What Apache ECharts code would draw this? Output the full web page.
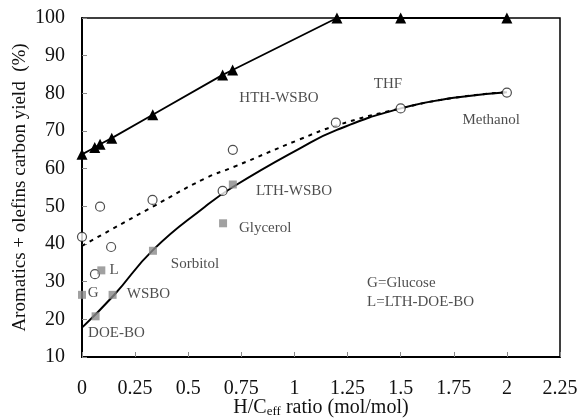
<!DOCTYPE html>
<html>
<head>
<meta charset="utf-8">
<script src="https://cdn.jsdelivr.net/npm/echarts@6/dist/echarts.min.js"></script>
<style>html,body{margin:0;padding:0;background:#fff;}#c{width:581px;height:418px;}</style>
</head>
<body>
<div id="c"></div>
<script>
// HTH-WSBO (filled triangles)
const hthX = [0, 0.06, 0.085, 0.14, 0.333, 0.662, 0.709, 1.2, 1.5, 2];
const hthY = [63.8, 65.6, 66.5, 68.1, 74.3, 84.9, 86.2, 100, 100, 100];
// open circles
const circX = [0, 0.061, 0.085, 0.137, 0.332, 0.662, 0.710, 1.195, 1.5, 2];
const circY = [41.9, 32.0, 49.9, 39.2, 51.7, 54.1, 65.0, 72.2, 76.0, 80.2];
// gray squares
const sqX = [0, 0.064, 0.091, 0.144, 0.334, 0.664, 0.710];
const sqY = [26.5, 20.8, 33.0, 26.5, 38.2, 45.5, 55.8];
// solid trend curve
const solidX = [0, 0.15, 0.336, 0.579, 0.712, 1.026, 1.2, 1.5, 1.75, 2];
const solidY = [17.8, 26.4, 38.5, 49.9, 55.2, 65.4, 70.3, 76.0, 78.8, 80.3];
// dashed trend curve
const dashX = [0, 0.336, 0.579, 0.712, 1.026, 1.2, 1.5, 1.75, 2];
const dashY = [39.5, 50.0, 57.4, 60.4, 67.8, 71.5, 76.0, 78.8, 80.3];
// annotations
const annText = ['HTH-WSBO', 'THF', 'Methanol', 'LTH-WSBO', 'Glycerol', 'Sorbitol', 'L', 'G', 'WSBO', 'DOE-BO'];
const annX = [0.927, 1.44, 1.926, 0.998, 0.862, 0.532, 0.151, 0.052, 0.313, 0.162];
const annY = [78.8, 82.5, 72.9, 54.1, 44.3, 34.6, 33.1, 27.0, 26.7, 16.4];
const legendText = ['G=Glucose', 'L=LTH-DOE-BO'];
const legendX = [1.342, 1.342];
const legendY = [29.7, 24.6];

const xTicks = {min: 0, max: 2.25, interval: 0.25};
const yTicks = {min: 10, max: 100, interval: 10};

const zip = (xs, ys) => xs.map((x, i) => [x, ys[i]]);
const FONT = 'Liberation Serif';

const chart = echarts.init(document.getElementById('c'));
chart.setOption({
  animation: false,
  backgroundColor: '#fff',
  grid: {left: 82, right: 21, top: 18, bottom: 61, containLabel: false, outerBoundsMode: 'none',
         show: true, borderColor: '#000', borderWidth: 1.5, backgroundColor: 'transparent'},
  xAxis: {
    type: 'value', min: xTicks.min, max: xTicks.max, interval: xTicks.interval,
    axisLine: {lineStyle: {color: '#000', width: 2}},
    axisTick: {inside: true, length: 5, lineStyle: {color: '#888'}},
    splitLine: {show: false},
    axisLabel: {color: '#111', fontFamily: FONT, fontSize: 20, margin: 22},
    name: 'H/C{sub|eff} ratio (mol/mol)', nameLocation: 'middle', nameGap: 41, nameMoveOverlap: false,
    nameTextStyle: {color: '#111', fontFamily: FONT, fontSize: 20,
      rich: {sub: {fontFamily: FONT, fontSize: 13, color: '#111', padding: [7, 0, 0, 0]}}}
  },
  yAxis: {
    type: 'value', min: yTicks.min, max: yTicks.max, interval: yTicks.interval,
    axisLine: {show: true, lineStyle: {color: '#000', width: 2}},
    axisTick: {show: true, inside: true, length: 5, lineStyle: {color: '#888'}},
    splitLine: {show: false},
    axisLabel: {color: '#111', fontFamily: FONT, fontSize: 20, margin: 17},
    name: 'Aromatics + olefins carbon yield  (%)', nameLocation: 'middle', nameGap: 52, nameMoveOverlap: false,
    nameTextStyle: {color: '#111', fontFamily: FONT, fontSize: 19}
  },
  series: [
    {type: 'line', data: zip(solidX, solidY), smooth: 0.5, symbol: 'none',
     lineStyle: {color: '#000', width: 2}, z: 2},
    {type: 'line', data: zip(dashX, dashY), smooth: 0.5, symbol: 'none',
     lineStyle: {color: '#000', width: 2, type: [4, 5]}, z: 2},
    {type: 'line', data: zip(hthX, hthY), symbol: 'triangle', symbolSize: 11, clip: false,
     itemStyle: {color: '#000'}, lineStyle: {color: '#000', width: 1.8}, z: 4},
    {type: 'scatter', data: zip(circX, circY), symbol: 'circle', symbolSize: 9, clip: false,
     itemStyle: {color: '#fff', borderColor: '#222', borderWidth: 1.2}, z: 5},
    {type: 'scatter', data: zip(sqX, sqY), symbol: 'rect', symbolSize: 8, clip: false,
     itemStyle: {color: '#8a8a8a'}, z: 5},
    {type: 'scatter', data: annText.map((t, i) => ({value: [annX[i], annY[i]], name: t})),
     symbolSize: 0, silent: true, clip: false,
     label: {show: true, position: 'inside', formatter: p => p.name, color: '#222', fontFamily: FONT, fontSize: 15}, z: 6},
    {type: 'scatter', data: legendText.map((t, i) => ({value: [legendX[i], legendY[i]], name: t})),
     symbolSize: 0, silent: true, clip: false,
     label: {show: true, position: 'right', distance: 0, formatter: p => p.name, color: '#222', fontFamily: FONT, fontSize: 15}, z: 6}
  ]
});
</script>
</body>
</html>
